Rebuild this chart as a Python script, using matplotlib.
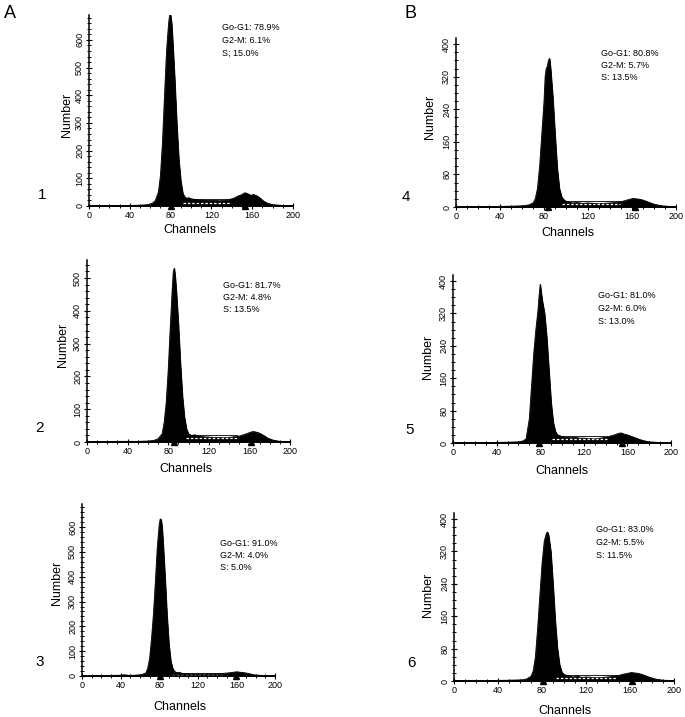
import matplotlib
matplotlib.use("Agg")
import matplotlib.pyplot as plt
from matplotlib.ticker import MultipleLocator, AutoMinorLocator

plt.rcParams['font.family'] = ['Liberation Sans', 'DejaVu Sans']

# histogram outlines (channel, count)
ch1 = [0, 20, 40, 50, 58, 62, 65, 68, 70, 72, 74, 76, 78, 79, 80, 81, 82, 84, 86, 88, 90, 92, 94, 96, 98,
       100, 104, 108, 112, 116, 120, 124, 128, 132, 136, 140, 143, 146, 149, 151, 153, 155, 157, 159, 161,
       163, 165, 168, 171, 175, 180, 190, 200]
n1 = [1, 2, 2, 3, 5, 10, 20, 50, 110, 230, 400, 560, 660, 690, 690, 660, 600, 460, 300, 170, 90, 45, 32, 28, 30,
      26, 24, 22, 21, 20, 21, 20, 19, 20, 22, 26, 30, 36, 40, 44, 48, 45, 42, 38, 42,
      39, 36, 28, 18, 10, 5, 2, 1]

ch2 = [0, 30, 50, 60, 66, 70, 74, 76, 78, 80, 82, 84, 85, 86, 87, 88, 90, 92, 94, 96, 98, 100, 103, 106, 110,
       115, 120, 125, 130, 135, 140, 145, 150, 154, 158, 161, 164, 167, 170, 174, 178, 183, 190, 200]
n2 = [1, 2, 2, 3, 5, 10, 25, 60, 120, 220, 350, 470, 520, 530, 500, 460, 360, 240, 140, 75, 40, 25, 20, 22, 18,
      16, 15, 14, 14, 13, 14, 16, 18, 22, 26, 30, 32, 30, 27, 20, 12, 6, 2, 1]

ch3 = [0, 20, 40, 44, 48, 55, 62, 66, 68, 70, 72, 74, 76, 78, 80, 81, 82, 83, 84, 86, 88, 90, 92, 94, 96, 98,
       100, 105, 110, 115, 120, 125, 130, 135, 140, 145, 150, 155, 158, 161, 164, 167, 170, 174, 178, 184, 190, 200]
n3 = [1, 2, 3, 5, 3, 3, 6, 12, 30, 70, 150, 250, 380, 520, 610, 633, 630, 600, 540, 400, 250, 130, 60, 30, 18, 14,
      15, 10, 9, 8, 8, 7, 8, 8, 9, 10, 12, 14, 16, 17, 15, 14, 12, 9, 5, 3, 1, 1]

ch4 = [0, 30, 50, 60, 66, 70, 72, 74, 76, 78, 80, 81, 82, 83, 84, 85, 86, 88, 90, 92, 94, 96, 98, 100, 103, 106,
       110, 115, 120, 125, 130, 135, 140, 145, 150, 154, 158, 161, 164, 167, 170, 173, 176, 180, 185, 190, 200]
n4 = [1, 1, 2, 3, 5, 10, 20, 45, 100, 180, 260, 320, 340, 345, 360, 365, 340, 270, 180, 95, 45, 25, 18, 14, 12, 10,
      11, 9, 10, 9, 8, 9, 10, 11, 13, 16, 19, 21, 20, 19, 17, 14, 11, 7, 4, 2, 1]

ch5 = [0, 30, 50, 60, 64, 67, 70, 72, 74, 76, 78, 79, 80, 81, 82, 84, 86, 88, 90, 92, 94, 96, 98, 100, 104, 108,
       112, 116, 120, 125, 130, 135, 140, 144, 148, 151, 154, 157, 160, 164, 168, 172, 176, 180, 190, 200]
n5 = [1, 1, 2, 3, 5, 10, 60, 140, 220, 280, 330, 365, 392, 370, 350, 320, 260, 180, 100, 50, 28, 20, 18, 16, 14, 13,
      14, 12, 12, 11, 10, 12, 14, 17, 20, 23, 25, 22, 20, 16, 12, 8, 5, 3, 1, 1]

ch6 = [0, 30, 50, 62, 66, 70, 72, 74, 76, 78, 80, 82, 84, 85, 86, 88, 90, 92, 94, 96, 98, 100, 104, 108, 112,
       116, 120, 125, 130, 135, 140, 145, 150, 154, 158, 161, 164, 167, 170, 174, 178, 183, 190, 200]
n6 = [1, 1, 2, 3, 5, 12, 25, 60, 130, 210, 290, 345, 365, 368, 360, 320, 240, 150, 80, 40, 22, 16, 13, 10, 12,
      9, 10, 9, 8, 9, 10, 12, 14, 17, 19, 21, 20, 19, 17, 13, 9, 5, 2, 1]

# G1 / G2 marker channels, S-phase model level
g1_pos = [80, 86, 81, 84, 79, 81]
g2_pos = [153, 162, 160, 163, 155, 162]
s_level = [12, 11, 6, 7, 9, 7]
y_max = [690, 555, 693, 415, 415, 415]
y_step = [100, 100, 100, 80, 80, 80]

labels_g1 = ["Go-G1: 78.9%", "Go-G1: 81.7%", "Go-G1: 91.0%", "Go-G1: 80.8%", "Go-G1: 81.0%", "Go-G1: 83.0%"]
labels_g2 = ["G2-M: 6.1%", "G2-M: 4.8%", "G2-M: 4.0%", "G2-M: 5.7%", "G2-M: 6.0%", "G2-M: 5.5%"]
labels_s = ["S; 15.0%", "S: 13.5%", "S: 5.0%", "S: 13.5%", "S: 13.0%", "S: 11.5%"]

W, H = 685, 717
fig = plt.figure(figsize=(W / 100, H / 100), dpi=100)

# axes boxes in pixels: left, right, top, bottom
boxes = [(89, 293, 15, 206), (87, 290, 260, 442), (82, 275, 504, 676),
         (456, 676, 38, 207), (453, 671, 275, 443), (454, 674, 513, 681)]
text_pos = [(222, 28), (223, 285), (220, 543), (601, 53), (598, 296), (596, 530)]
num_pos = [(42, 195), (40, 428), (40, 662), (406, 197), (410, 430), (411, 663)]
xlab_pos = [(190, 230), (186, 469), (180, 707), (568, 233), (562, 471), (565, 711)]
ylab_pos = [(67, 115), (63, 345), (57, 583), (430, 117), (428, 357), (428, 595)]

chs = [ch1, ch2, ch3, ch4, ch5, ch6]
ns = [n1, n2, n3, n4, n5, n6]


def fx(px):
    return px / W


def fy(py):
    return 1 - py / H


for i in range(6):
    l, r, t, b = boxes[i]
    ax = fig.add_axes([fx(l), fy(b), (r - l) / W, (b - t) / H])
    ax.fill_between(chs[i], ns[i], 0, color='black', lw=0.6)
    ax.plot(chs[i], ns[i], color='black', lw=0.6)
    # S-phase model strip
    ax.plot([g1_pos[i] + 12, g2_pos[i] - 14], [s_level[i], s_level[i]], color='white', lw=0.9,
            ls=(0, (2, 1.5)))
    ax.plot([g1_pos[i] + 12, g2_pos[i] - 14], [s_level[i] * 2, s_level[i] * 2], color='black', lw=0.6)
    ax.plot([g1_pos[i], g2_pos[i]], [0, 0], ls='none', marker='^', ms=4.5, color='black', clip_on=False,
            zorder=5)

    ax.set_xlim(0, 200)
    ax.set_ylim(0, y_max[i])
    for s in ['top', 'right']:
        ax.spines[s].set_visible(False)
    ax.spines['left'].set_linewidth(1.1)
    ax.spines['bottom'].set_linewidth(1.1)
    ax.xaxis.set_major_locator(MultipleLocator(40))
    ax.xaxis.set_minor_locator(AutoMinorLocator(4))
    ax.yaxis.set_major_locator(MultipleLocator(y_step[i]))
    ax.yaxis.set_minor_locator(AutoMinorLocator(5 if y_step[i] == 100 else 4))
    ax.tick_params(which='major', direction='inout', length=5, width=0.8, labelsize=6.5, pad=1)
    ax.tick_params(which='minor', direction='inout', length=3, width=0.7)
    for lab in ax.get_yticklabels():
        lab.set_rotation(90)
        lab.set_va('center')

    ax.set_xlabel("Channels", fontsize=9)
    ax.set_ylabel("Number", fontsize=9)
    ax.xaxis.set_label_coords((xlab_pos[i][0] - l) / (r - l), (b - xlab_pos[i][1]) / (b - t))
    ax.yaxis.set_label_coords((ylab_pos[i][0] - l) / (r - l), (b - ylab_pos[i][1]) / (b - t))
    ax.xaxis.label.set_va('center')
    ax.yaxis.label.set_va('center')

    tx, ty = text_pos[i]
    for k, s in enumerate([labels_g1[i], labels_g2[i], labels_s[i]]):
        fig.text(fx(tx), fy(ty + k * 12.5), s, fontsize=6.5, ha='left', va='center')
    fig.text(fx(num_pos[i][0]), fy(num_pos[i][1]), str(i + 1), fontsize=11, ha='center', va='center')

fig.text(fx(10), fy(14), "A", fontsize=13, ha='center', va='center')
fig.text(fx(410), fy(14), "B", fontsize=13, ha='center', va='center')

fig.savefig("out.png", dpi=100)
